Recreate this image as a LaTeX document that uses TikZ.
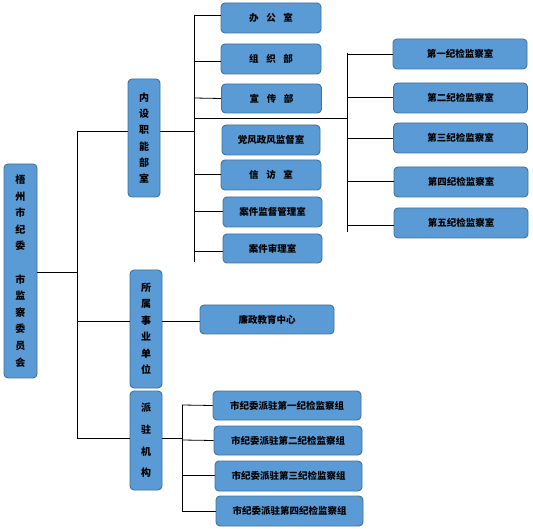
\documentclass[tikz,border=0pt]{standalone}
\usepackage{fontspec}
\setmainfont{Noto Sans CJK SC}
\definecolor{boxfill}{HTML}{5B9BD5}
\definecolor{boxline}{HTML}{41719C}
\begin{document}
\begin{tikzpicture}[x=1pt,y=-1pt,
  box/.style={draw=boxline,fill=boxfill,line width=0.9pt,rounded corners=4pt,inner sep=0pt,font=\bfseries\fontsize{9.5}{10}\selectfont},
  vbox/.style={box,align=center,font=\bfseries\fontsize{10}{#1}\selectfont},
  conn/.style={draw=black,line width=0.8pt}]
\useasboundingbox (0,0) rectangle (533,529);
% root and level-1 boxes
\node[vbox=16.6pt,minimum width=33,minimum height=214] (root) at (20.5,271)
  {梧\\州\\市\\纪\\委\\\mbox{}\\市\\监\\察\\委\\员\\会};
\node[vbox=16.2pt,minimum width=32,minimum height=118] (nei) at (144,138)
  {内\\设\\职\\能\\部\\室};
\node[vbox=16.5pt,minimum width=32,minimum height=118] (suo) at (146,329)
  {所\\属\\事\\业\\单\\位};
\node[vbox=21.7pt,minimum width=32,minimum height=99] (pai) at (146,440.5)
  {派\\驻\\机\\构};
% left column of 内设
\node[box,minimum width=100,minimum height=30] (b1) at (271,18) {办\hspace{0.8em}公\hspace{0.8em}室};
\node[box,minimum width=100,minimum height=30] (b2) at (271,59) {组\hspace{0.8em}织\hspace{0.8em}部};
\node[box,minimum width=100,minimum height=29] (b3) at (271.5,98.5) {宣\hspace{0.8em}传\hspace{0.8em}部};
\node[box,minimum width=98,minimum height=30] (b4) at (271,140) {党风政风监督室};
\node[box,minimum width=100,minimum height=30] (b5) at (271,175) {信\hspace{0.8em}访\hspace{0.8em}室};
\node[box,minimum width=99,minimum height=30] (b6) at (272.5,212) {案件监督管理室};
\node[box,minimum width=99,minimum height=29] (b7) at (272.5,248.5) {案件审理室};
% right column
\node[box,minimum width=134,minimum height=30] (c1) at (460,54) {第一纪检监察室};
\node[box,minimum width=134,minimum height=30] (c2) at (460.5,98) {第二纪检监察室};
\node[box,minimum width=134,minimum height=30] (c3) at (460.5,138) {第三纪检监察室};
\node[box,minimum width=134,minimum height=30] (c4) at (461,182) {第四纪检监察室};
\node[box,minimum width=134,minimum height=30] (c5) at (461,223) {第五纪检监察室};
% 所属
\node[box,minimum width=134,minimum height=29] (lz) at (267,319.5) {廉政教育中心};
% 派驻
\node[box,minimum width=148,minimum height=29] (p1) at (287,405.5) {市纪委派驻第一纪检监察组};
\node[box,minimum width=148,minimum height=29] (p2) at (288,440.5) {市纪委派驻第二纪检监察组};
\node[box,minimum width=147,minimum height=30] (p3) at (288.5,476) {市纪委派驻第三纪检监察组};
\node[box,minimum width=147,minimum height=30] (p4) at (289.5,511) {市纪委派驻第四纪检监察组};
% bus coordinates
\coordinate (busA) at (77,131);
\coordinate (busAend) at (77,438);
\coordinate (busB) at (194,15);
\coordinate (busBend) at (194,262);
\coordinate (busBmid) at (194,118);
\coordinate (busC) at (347,53);
\coordinate (busCend) at (347,232);
\coordinate (busD) at (182,405);
\coordinate (busDend) at (182,512);
% level 1 connectors
\draw[conn] (busA) -- (busAend);
\draw[conn] (root.east |- 0,272) -- (77,272);
\draw[conn] (busA) -- (busA -| nei.west);
\draw[conn] (suo.west |- 0,321) -- (77,321);
\draw[conn] (pai.west |- busAend) -- (busAend);
% 内设 branch
\draw[conn] (nei.east |- busA) -- (194,131);
\draw[conn] (busB) -- (busBend);
\draw[conn] (busB) -- (busB -| b1.west);
\draw[conn] (194,61) -- (b2.west |- 0,61);
\draw[conn] (194,98) -- (b3.west);
\draw[conn] (194,174) -- (b5.west |- 0,174);
\draw[conn] (194,211) -- (b6.west |- 0,211);
\draw[conn] (194,251) -- (b7.west |- 0,251);
\draw[conn] (busBmid) -- (busBmid -| busC);
\draw[conn] (busC) -- (busCend);
\draw[conn] (347,54) -- (c1.west |- 0,54);
\draw[conn] (347,97) -- (c2.west |- 0,97);
\draw[conn] (347,138) -- (c3.west |- 0,138);
\draw[conn] (347,181) -- (c4.west |- 0,181);
\draw[conn] (347,225) -- (c5.west |- 0,225);
% 所属 branch
\draw[conn] (suo.east |- 0,321) -- (lz.west |- 0,321);
% 派驻 branch
\draw[conn] (pai.east |- 0,438) -- (182,438);
\draw[conn] (busD) -- (busDend);
\draw[conn] (busD) -- (p1.west);
\draw[conn] (182,440) -- (p2.west);
\draw[conn] (182,475) -- (p3.west |- 0,475);
\draw[conn] (182,511) -- (p4.west);
\end{tikzpicture}
\end{document}
